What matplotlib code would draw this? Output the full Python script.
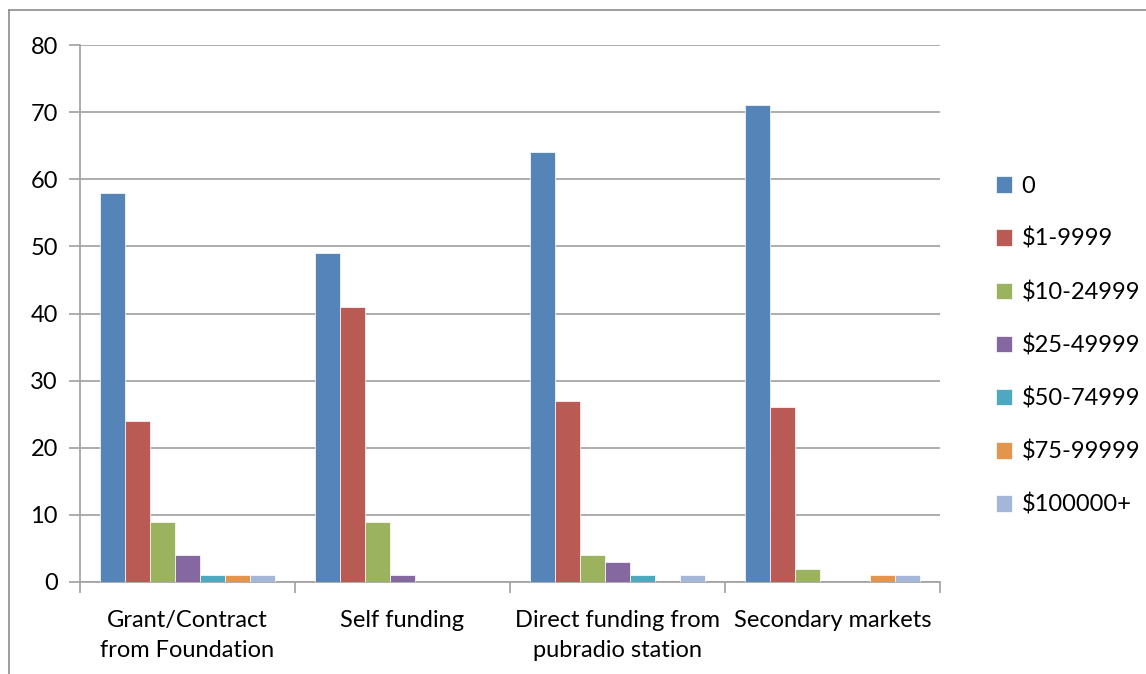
import matplotlib.pyplot as plt
import numpy as np
from matplotlib.lines import Line2D

# Data
categories = ['Grant/Contract\nfrom Foundation', 'Self funding',
              'Direct funding from\npubradio station', 'Secondary markets']
series_names = ['0', '$1-9999', '$10-24999', '$25-49999',
                '$50-74999', '$75-99999', '$100000+']
s0 = [58, 49, 64, 71]
s1 = [24, 41, 27, 26]
s2 = [9, 9, 4, 2]
s3 = [4, 1, 3, 0]
s4 = [1, 0, 1, 0]
s5 = [1, 0, 0, 1]
s6 = [1, 0, 1, 1]
series = [s0, s1, s2, s3, s4, s5, s6]
colors = ['#5585B8', '#B95A55', '#9BB35E', '#8568A0',
          '#4EA8C0', '#E3954D', '#A5B7D9']

plt.rcParams['font.family'] = ['Lato', 'DejaVu Sans']

fig = plt.figure(figsize=(11.46, 6.74), dpi=100)
ax = fig.add_axes([0.0698, 0.1365, 0.7504, 0.7967])

x = np.arange(len(categories))
w = 0.1163
for i, (vals, col, name) in enumerate(zip(series, colors, series_names)):
    ax.bar(x + (i - 3) * w, vals, width=w, color=col, label=name,
           edgecolor='white', linewidth=0.5, zorder=3)

ax.set_xlim(-0.5, 3.5)
ax.set_ylim(0, 80)
ax.set_yticks(range(0, 81, 10))
ax.grid(axis='y', color='#A0A0A0', linewidth=1.2, zorder=0)

for s in ['top', 'right']:
    ax.spines[s].set_visible(False)
ax.spines['left'].set_color('#A0A0A0')
ax.spines['bottom'].set_color('#A0A0A0')
ax.spines['left'].set_linewidth(1.2)
ax.spines['bottom'].set_linewidth(1.2)

# category boundary ticks
ax.set_xticks(np.arange(-0.5, 4.0, 1.0))
ax.set_xticklabels([])
ax.set_xticks(x, minor=True)
ax.set_xticklabels(categories, minor=True, fontsize=17, linespacing=1.55)
ax.tick_params(axis='x', which='minor', length=0, pad=20)
ax.tick_params(axis='x', which='major', length=8, color='#A0A0A0', width=1.2)
ax.tick_params(axis='y', length=8, color='#A0A0A0', width=1.2, labelsize=17, pad=8)

leg = ax.legend(loc='center left', bbox_to_anchor=(1.04, 0.44), frameon=False,
                fontsize=17, handlelength=0.7, handleheight=0.7,
                handletextpad=0.4, labelspacing=1.32)

# outer chart-area frame (partially clipped in the original)
fig.add_artist(Line2D([9 / 1146, 9 / 1146], [0, 1 - 10 / 674],
                      color='#8C8C8C', linewidth=1.2))
fig.add_artist(Line2D([9 / 1146, 1], [1 - 10 / 674, 1 - 10 / 674],
                      color='#8C8C8C', linewidth=1.2))

fig.savefig('out.png', dpi=100)
